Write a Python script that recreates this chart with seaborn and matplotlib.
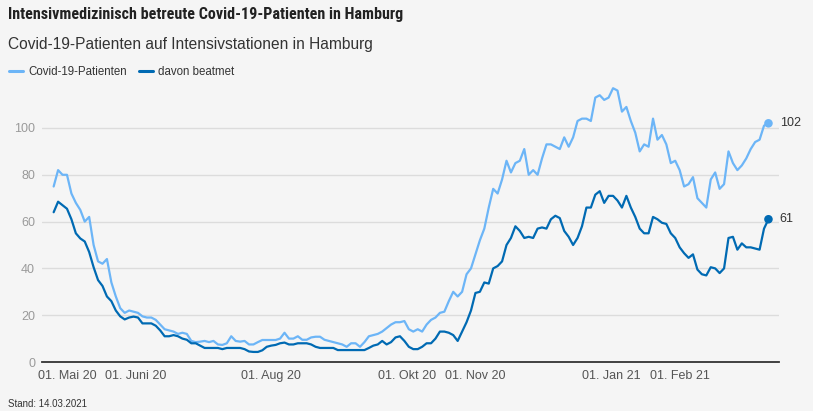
import numpy as np
import pandas as pd
import matplotlib
matplotlib.use("Agg")
import matplotlib.pyplot as plt
from matplotlib import font_manager as fm
from matplotlib.lines import Line2D
import seaborn as sns

# ---------------- data ----------------
start_date = "2020-04-25"
end_date = "2021-03-13"
step = "2D"

series_names = ["Covid-19-Patienten", "davon beatmet"]

patients = [
    75, 82, 80, 80, 72, 68, 65, 60, 62, 50,
    43, 42, 44, 34, 28, 23, 21, 22, 21.5, 21,
    19.5, 19, 19, 18, 16, 14, 13.5, 13, 12, 12.5,
    12, 9, 8.5, 8.7, 9, 8.5, 9, 7.5, 7.3, 8,
    11, 9, 8.7, 9, 7.5, 7.5, 8.5, 9.4, 9.4, 9.4,
    9.4, 10, 12.5, 10, 10, 11, 9.5, 9.5, 10.5, 10.8,
    10.8, 9.5, 9, 8.5, 8, 7.5, 6.5, 8, 8, 6.5,
    8.5, 11, 11.5, 12, 13, 14.5, 16, 17, 17, 17.5,
    14, 13, 14, 13, 16, 18, 19, 21, 21.5, 26,
    30, 28, 30, 37.5, 40, 46, 52, 57, 66, 74,
    72, 78, 86, 81, 85, 86, 91, 80, 82, 80,
    87, 93, 93, 92, 91, 96, 92, 96, 103, 104,
    104, 103, 113, 114, 112, 113, 117, 116, 107, 109,
    103, 98, 90, 93, 92, 104, 95, 97, 93, 85,
    86, 82, 75, 76, 79, 70, 68, 66, 78, 81,
    74, 76, 90, 85, 82, 84, 87, 91, 94, 95,
    101, 102,
]

ventilated = [
    64, 68.5, 67, 65.5, 61, 55, 52.8, 51.5, 47, 40.5,
    35, 32.5, 28, 26, 22, 19.5, 18.2, 19, 19.4, 19,
    16.5, 16.5, 16.5, 15.5, 13.5, 11, 11, 11.5, 11, 10,
    9.5, 8, 8, 7, 6, 6, 6, 6, 5.5, 6,
    6, 6, 6, 5.5, 4.5, 4.3, 4.3, 5, 6.5, 7,
    7.3, 8, 8.3, 7.5, 7.5, 8, 8, 8, 7.5, 6.5,
    6, 6, 6, 6, 5.1, 5.1, 5.1, 5.1, 5.1, 5.1,
    5.1, 6, 7, 7.5, 9, 7.5, 8.5, 10.5, 11, 9,
    6.5, 5.5, 5.5, 6.5, 8, 8, 10, 13, 13, 12.5,
    11.5, 9, 13, 17, 22, 29.5, 30, 34, 33.5, 40,
    41, 43, 50, 53, 58, 56, 53, 53.5, 53, 57,
    57.5, 57, 61, 62.5, 61.5, 56, 53.5, 50, 53, 58,
    66, 66, 71.5, 73, 68, 71, 71, 69, 66, 71,
    66, 62, 57, 55, 55, 62, 61, 59.5, 59, 55,
    53, 49, 46.5, 44.5, 46, 39.5, 37.5, 37, 40.5, 40,
    38, 40, 53, 53.5, 48, 50.7, 49, 49, 48.5, 48,
    57, 61,
]

end_labels = ["102", "61"]

tick_dates = ["2020-05-01", "2020-06-01", "2020-08-01", "2020-10-01",
              "2020-11-01", "2021-01-01", "2021-02-01"]
tick_labels = ["01. Mai 20", "01. Juni 20", "01. Aug 20", "01. Okt 20",
               "01. Nov 20", "01. Jan 21", "01. Feb 21"]
y_ticks = [0, 20, 40, 60, 80, 100]

title = "Intensivmedizinisch betreute Covid-19-Patienten in Hamburg"
subtitle = "Covid-19-Patienten auf Intensivstationen in Hamburg"
footer = "Stand: 14.03.2021"

colors = ["#6cb5f7", "#006ab3"]
bg = "#f5f5f5"

# ---------------- fonts ----------------
def pick(cands):
    for c in cands:
        try:
            fm.findfont(fm.FontProperties(family=c), fallback_to_default=False)
            return c
        except Exception:
            pass
    return "DejaVu Sans"

body_font = pick(["Liberation Sans", "Arial", "DejaVu Sans"])
title_font = pick(["Roboto Condensed", "Liberation Sans Narrow", "Open Sans Condensed",
                   "Roboto", "Liberation Sans"])

sns.set_theme(style="white")
plt.rcParams["font.family"] = [body_font, "DejaVu Sans"]

dates = pd.date_range(start_date, end_date, freq=step)
assert len(dates) == len(patients) == len(ventilated)

df = pd.DataFrame({"Datum": dates,
                   series_names[0]: patients,
                   series_names[1]: ventilated})
long = df.melt(id_vars="Datum", var_name="Serie", value_name="Wert")

W, H = 813, 411
fig = plt.figure(figsize=(W / 100, H / 100), dpi=100)
fig.patch.set_facecolor(bg)
ax = fig.add_axes([42 / W, 49 / H, (779 - 42) / W, 282 / H])
ax.set_facecolor(bg)

sns.lineplot(data=long, x="Datum", y="Wert", hue="Serie", hue_order=series_names,
             palette=colors, linewidth=1.6, ax=ax, legend=False)

last = long.groupby("Serie", sort=False).tail(1)
sns.scatterplot(data=last, x="Datum", y="Wert", hue="Serie", hue_order=series_names,
                palette=colors, s=38, edgecolor="none", ax=ax, legend=False, zorder=5)
for (_, row), lab in zip(last.iterrows(), end_labels):
    ax.annotate(lab, (row["Datum"], row["Wert"]), xytext=(8, 0),
                textcoords="offset points", va="center", ha="left",
                fontsize=9, color="#333333")

ax.set_xlim(pd.Timestamp("2020-04-19 18:00"), pd.Timestamp("2021-03-17 18:00"))
ax.set_ylim(0, 282 / 2.34)
ax.set_yticks(y_ticks)
ax.set_xticks(pd.to_datetime(tick_dates))
ax.set_xticklabels(tick_labels)
ax.set_xlabel("")
ax.set_ylabel("")

ax.yaxis.grid(True, color="#dcdcdc", linewidth=1)
ax.xaxis.grid(False)
ax.set_axisbelow(True)
for s in ["left", "right", "top"]:
    ax.spines[s].set_visible(False)
ax.spines["bottom"].set_color("#333333")
ax.spines["bottom"].set_linewidth(1.3)
ax.tick_params(axis="y", length=0, pad=5, labelcolor="#9a9a9a", labelsize=9)
ax.tick_params(axis="x", length=0, pad=6, labelcolor="#555555", labelsize=9)

# legend
handles = [Line2D([0], [0], color=c, lw=2.2) for c in colors]
fig.legend(handles, series_names, loc="center left",
           bbox_to_anchor=(9 / W, 1 - 72 / H), ncol=2, frameon=False,
           handlelength=1.2, handletextpad=0.45, columnspacing=1.1,
           fontsize=8.3, borderpad=0, borderaxespad=0, labelcolor="#333333")

# titles
t = fig.text(8 / W, 1 - 14 / H, title, va="center", ha="left",
             fontsize=14.5, fontweight="bold", color="#222222",
             family=[title_font, "DejaVu Sans"])
fig.canvas.draw()
r = fig.canvas.get_renderer()
w = t.get_window_extent(r).width
if w > 396:
    t.set_fontsize(14.5 * 396 / w)

fig.text(8 / W, 1 - 44 / H, subtitle, va="center", ha="left",
         fontsize=11.2, color="#333333")
fig.text(8 / W, 1 - 409 / H, footer, va="bottom", ha="left",
         fontsize=7, color="#333333")

fig.savefig("out.png", dpi=100, facecolor=bg)
